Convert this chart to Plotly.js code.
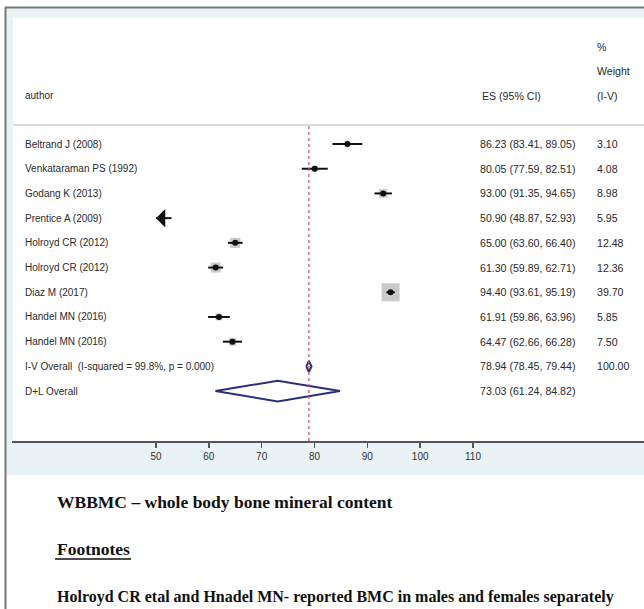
<!DOCTYPE html>
<html>
<head>
<meta charset="utf-8">
<script src="https://cdn.plot.ly/plotly-3.0.1.min.js"></script>
<style>html,body{margin:0;padding:0;background:#fff;}#chart{width:644px;height:609px;}</style>
</head>
<body>
<div id="chart"></div>
<script>
// ---- data ----
const authors = ["Beltrand J (2008)", "Venkataraman PS (1992)", "Godang K (2013)", "Prentice A (2009)",
  "Holroyd CR (2012)", "Holroyd CR (2012)", "Diaz M (2017)", "Handel MN (2016)", "Handel MN (2016)"];
const es = [86.23, 80.05, 93.00, 50.90, 65.00, 61.30, 94.40, 61.91, 64.47];
const ciLow = [83.41, 77.59, 91.35, 48.87, 63.60, 59.89, 93.61, 59.86, 62.66];
const ciHigh = [89.05, 82.51, 94.65, 52.93, 66.40, 62.71, 95.19, 63.96, 66.28];
const weights = [3.10, 4.08, 8.98, 5.95, 12.48, 12.36, 39.70, 5.85, 7.50];
const overallLabels = ["I-V Overall  (I-squared = 99.8%, p = 0.000)", "D+L Overall"];
const overallEs = [78.94, 73.03];
const overallLow = [78.45, 61.24];
const overallHigh = [79.44, 84.82];
const overallWeight = ["100.00", ""];
const xTickVals = [50, 60, 70, 80, 90, 100, 110];
const axisMin = 50;   // lower display limit of the scale (CIs beyond it get an arrow)
const footTitle = "WBBMC \u2013 whole body bone mineral content";
const footHeading = "Footnotes";
const footNote = "Holroyd CR etal and Hnadel MN- reported BMC in males and females separately";

// ---- geometry helpers (pixel -> paper) ----
const W = 644, H = 609;
const M = {l: 12, r: 0, t: 125, b: 168};
const PW = W - M.l - M.r, PH = H - M.t - M.b;
const px = x => (x - M.l) / PW;
const py = y => 1 - (y - M.t) / PH;

const fmt = v => v.toFixed(2);
const nStudy = authors.length;

// CI lines
const ciX = [], ciY = [];
for (let i = 0; i < nStudy; i++) {
  ciX.push(Math.max(ciLow[i], axisMin), ciHigh[i], null);
  ciY.push(i, i, null);
}
// boxes & points (skip studies whose CI leaves the scale)
const boxX = [], boxY = [], boxS = [];
const ptX = [], ptY = [];
for (let i = 0; i < nStudy; i++) {
  if (ciLow[i] < axisMin) continue;
  boxX.push(es[i]); boxY.push(i); boxS.push(18 * Math.sqrt(weights[i] / Math.max(...weights)));
  ptX.push(es[i]); ptY.push(i);
}

const traces = [
  {type: 'scatter', mode: 'markers', x: boxX, y: boxY, hoverinfo: 'skip',
   marker: {symbol: 'square', size: boxS, color: '#b3b3b3', line: {width: 0}}},
  {type: 'scatter', mode: 'lines', x: ciX, y: ciY, hoverinfo: 'skip',
   line: {color: '#111', width: 2}},
  {type: 'scatter', mode: 'markers', x: ptX, y: ptY, hoverinfo: 'skip',
   marker: {symbol: 'circle', size: 6, color: '#111', line: {width: 0}}}
];
// pooled diamonds
const halfH = [0.22, 0.42];
for (let k = 0; k < overallEs.length; k++) {
  const r = nStudy + k;
  traces.push({type: 'scatter', mode: 'lines', hoverinfo: 'skip',
    x: [overallLow[k], overallEs[k], overallHigh[k], overallEs[k], overallLow[k]],
    y: [r, r - halfH[k], r, r + halfH[k], r],
    line: {color: '#2e2e7e', width: 2}});
}

const txtFont = {family: 'Liberation Sans, Arial, sans-serif', size: 10, color: '#2a2a2a'};
const numFont = {family: 'Liberation Sans, Arial, sans-serif', size: 10.6, color: '#2a2a2a'};
const annotations = [];
const addTxt = (text, x, y, yref, font) => annotations.push({text, x, y, xref: 'paper', yref,
  xanchor: 'left', yanchor: 'middle', showarrow: false, font: font || txtFont});

// header
addTxt('author', px(23), py(96), 'paper');
addTxt('ES (95% CI)', px(480), py(96), 'paper', numFont);
addTxt('%', px(595), py(47), 'paper', numFont);
addTxt('Weight', px(595), py(71), 'paper', numFont);
addTxt('(I-V)', px(595), py(96), 'paper', numFont);
// rows
for (let i = 0; i < nStudy; i++) {
  addTxt(authors[i], px(23), i, 'y');
  addTxt(`${fmt(es[i])} (${fmt(ciLow[i])}, ${fmt(ciHigh[i])})`, px(478), i, 'y', numFont);
  addTxt(fmt(weights[i]), px(595), i, 'y', numFont);
}
for (let k = 0; k < overallEs.length; k++) {
  const r = nStudy + k;
  addTxt(overallLabels[k], px(23), r, 'y');
  addTxt(`${fmt(overallEs[k])} (${fmt(overallLow[k])}, ${fmt(overallHigh[k])})`, px(478), r, 'y', numFont);
  if (overallWeight[k]) addTxt(overallWeight[k], px(595), r, 'y', numFont);
}
// arrows for CIs beyond the scale
for (let i = 0; i < nStudy; i++) {
  if (ciLow[i] < axisMin) {
    annotations.push({x: axisMin, y: i, ax: axisMin + 1.6, ay: i, xref: 'x', yref: 'y', axref: 'x', ayref: 'y',
      showarrow: true, arrowhead: 1, arrowsize: 1.4, arrowwidth: 2.2, arrowcolor: '#111', text: ''});
  }
}
// footnotes
const serifBig = {family: 'Liberation Serif, Times New Roman, serif', size: 17.5, color: '#111', weight: 'bold'};
const serifSmall = {family: 'Liberation Serif, Times New Roman, serif', size: 16, color: '#111', weight: 'bold'};
addTxt('<b>' + footTitle + '</b>', px(55), py(502), 'paper', serifBig);
addTxt('<b>' + footHeading + '</b>', px(55), py(549), 'paper', serifBig);
addTxt('<b>' + footNote + '</b>', px(55), py(597), 'paper', serifSmall);

const shapes = [
  // light blue graph region and white plot region
  {type: 'rect', xref: 'paper', yref: 'paper', layer: 'below', x0: px(6), x1: px(644), y0: py(475), y1: py(8),
   fillcolor: '#e9f2f5', line: {width: 0}},
  {type: 'rect', xref: 'paper', yref: 'paper', layer: 'below', x0: px(13), x1: px(644), y0: py(441), y1: py(18),
   fillcolor: '#ffffff', line: {width: 0}},
  // outer frame lines
  {type: 'line', xref: 'paper', yref: 'paper', x0: px(5.5), x1: px(5.5), y0: py(7), y1: py(609),
   line: {color: '#777', width: 2}},
  {type: 'line', xref: 'paper', yref: 'paper', x0: px(5), x1: px(644), y0: py(7.5), y1: py(7.5),
   line: {color: '#777', width: 2}},
  // header separator
  {type: 'line', xref: 'paper', yref: 'paper', x0: px(13), x1: px(644), y0: 1, y1: 1,
   line: {color: '#d9d9d9', width: 2}},
  // underline for footnote heading
  {type: 'line', xref: 'paper', yref: 'paper', x0: px(55), x1: px(131), y0: py(559), y1: py(559),
   line: {color: '#111', width: 1.6}},
  // reference line at overall (I-V) estimate
  {type: 'line', xref: 'x', yref: 'paper', x0: overallEs[0], x1: overallEs[0], y0: 0, y1: 1,
   line: {color: '#b0607a', width: 1.3, dash: 'dot'}}
];

const layout = {
  width: W, height: H, margin: M, showlegend: false,
  paper_bgcolor: '#ffffff', plot_bgcolor: 'rgba(0,0,0,0)',
  xaxis: {range: [50 - (156 - 12) / 5.283, 110 + (644 - 473) / 5.283], tickvals: xTickVals,
    ticktext: xTickVals.map(String), ticks: 'outside', ticklen: 5, tickwidth: 1.5, tickcolor: '#555',
    showline: true, linecolor: '#555', linewidth: 1.5, showgrid: false, zeroline: false,
    tickfont: {family: 'Liberation Sans, Arial, sans-serif', size: 10, color: '#333'}, fixedrange: true},
  yaxis: {range: [12.02, -0.77], visible: false, showgrid: false, zeroline: false, fixedrange: true},
  shapes, annotations
};

Plotly.newPlot('chart', traces, layout, {staticPlot: true, displayModeBar: false});
</script>
</body>
</html>
